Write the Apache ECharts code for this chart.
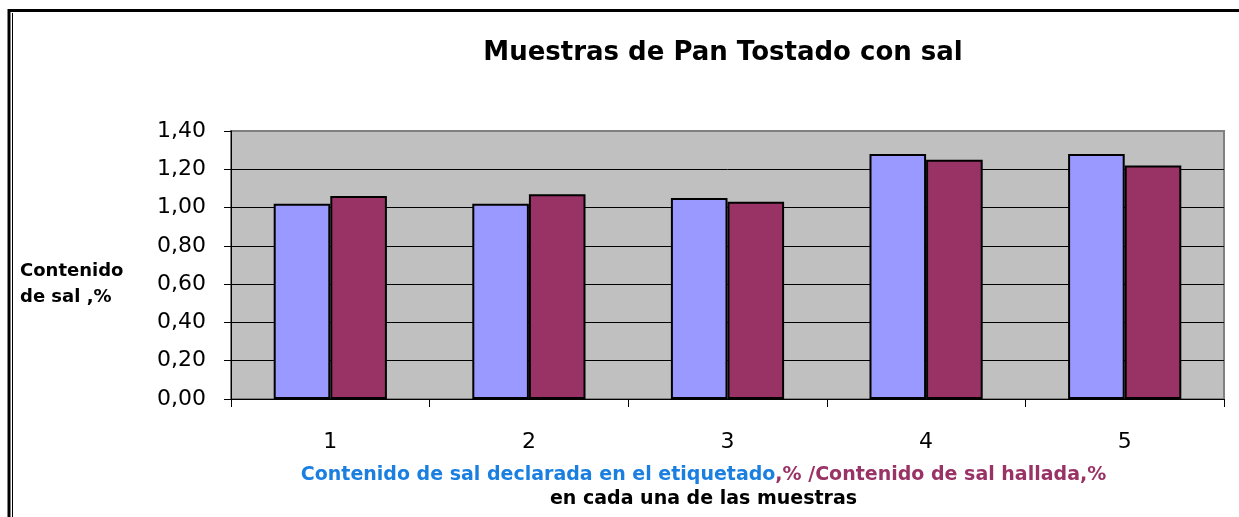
<!DOCTYPE html>
<html><head><meta charset="utf-8">
<script src="https://cdn.jsdelivr.net/npm/echarts@6/dist/echarts.min.js"></script>
<style>html,body{margin:0;padding:0;background:#fff}#c{width:1239px;height:517px}</style>
</head><body><div id="c"></div>
<script>
const categories = ['1', '2', '3', '4', '5'];
const declarada = [1.02, 1.02, 1.05, 1.28, 1.28];
const hallada = [1.06, 1.07, 1.03, 1.25, 1.22];
const yTicks = { min: 0, max: 1.4, interval: 0.2 };

const chart = echarts.init(document.getElementById('c'), null, { renderer: 'canvas' });
const F = 'DejaVu Sans, Arial, sans-serif';
chart.setOption({
  animation: false,
  backgroundColor: '#fff',
  title: {
    text: 'Muestras de Pan Tostado con sal',
    left: 718, top: 35, textAlign: 'center',
    textStyle: { fontFamily: F, fontSize: 26, fontWeight: 'bold', color: '#000' }
  },
  grid: { left: 231, right: 15, top: 131, bottom: 118, outerBoundsMode: 'none', containLabel: false,
    show: true, backgroundColor: '#c0c0c0', borderColor: '#808080', borderWidth: 2 },
  xAxis: {
    type: 'category', data: categories,
    axisLine: { show: true, lineStyle: { color: '#000', width: 1 } },
    axisTick: { show: true, length: 8, lineStyle: { color: '#000' } },
    axisLabel: { fontFamily: F, fontSize: 22, color: '#000', margin: 32 },
    name: '{b|Contenido de sal declarada en el etiquetado}{m|,% /Contenido de sal hallada,%}\n{k|en cada una de las muestras}',
    nameLocation: 'middle', nameGap: 64,
    nameTextStyle: {
      verticalAlign: 'top',
      padding: [0, 48, 0, 0],
      rich: {
        b: { fontFamily: F, fontSize: 19, fontWeight: 'bold', color: '#1a7fe0', lineHeight: 24 },
        m: { fontFamily: F, fontSize: 19, fontWeight: 'bold', color: '#993366', lineHeight: 24 },
        k: { fontFamily: F, fontSize: 19, fontWeight: 'bold', color: '#000', lineHeight: 24 }
      }
    }
  },
  yAxis: {
    type: 'value', min: yTicks.min, max: yTicks.max, interval: yTicks.interval,
    axisLine: { show: true, lineStyle: { color: '#000' } },
    axisTick: { show: true, length: 7, lineStyle: { color: '#000' } },
    splitLine: { show: true, showMaxLine: false, lineStyle: { color: '#000', width: 1 } },
    axisLabel: { fontFamily: F, fontSize: 22, color: '#000', margin: 25,
      formatter: v => v.toFixed(2).replace('.', ',') }
  },
  graphic: [
    { type: 'text', left: 20, top: 258, style: { text: 'Contenido\nde sal ,%', font: 'bold 18px ' + F, fill: '#000', lineHeight: 26 } },
    { type: 'polyline', shape: { points: [[9, 530], [9, 10.5], [1250, 10.5]] }, style: { stroke: '#000', lineWidth: 3, fill: null } },
    { type: 'line', shape: { x1: 12.5, y1: 13, x2: 12.5, y2: 530 }, style: { stroke: '#000', lineWidth: 1 } }
  ],
  series: [
    { type: 'bar', data: declarada, barGap: '0%', barCategoryGap: '43%',
      itemStyle: { color: '#9999ff', borderColor: '#000', borderWidth: 2 } },
    { type: 'bar', data: hallada,
      itemStyle: { color: '#993366', borderColor: '#000', borderWidth: 2 } }
  ]
});
</script></body></html>
